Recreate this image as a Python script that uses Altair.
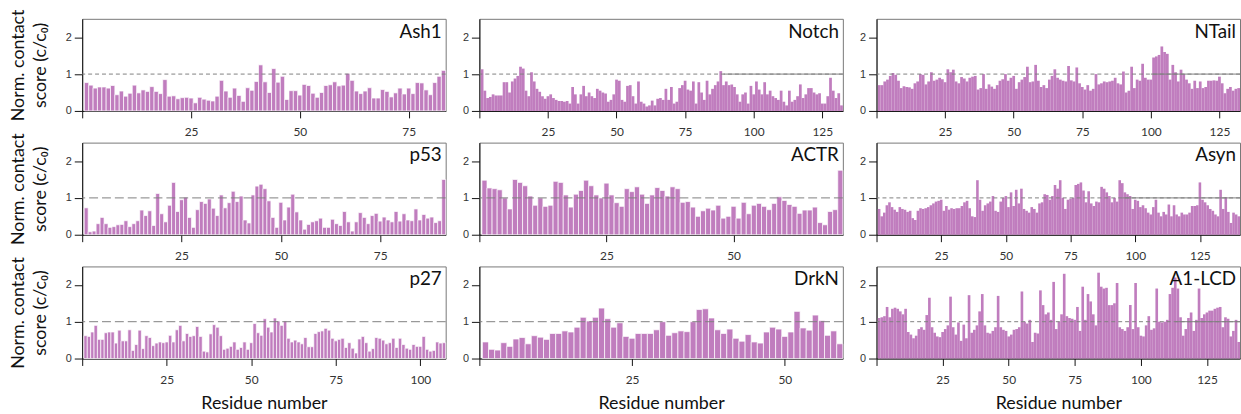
import altair as alt
import pandas as pd

# Normalised contact score per residue for each disordered region
ash1 = [0.77, 0.70, 0.62, 0.65, 0.65, 0.62, 0.69, 0.44, 0.54, 0.40, 0.48, 0.70, 0.49, 0.57, 0.53,
        0.66, 0.53, 0.47, 0.85, 0.40, 0.41, 0.33, 0.36, 0.37, 0.35, 0.22, 0.37, 0.32, 0.29, 0.27,
        0.40, 0.83, 0.54, 0.37, 0.62, 0.42, 0.26, 0.63, 0.56, 0.80, 1.25, 0.79, 0.50, 1.15, 0.78,
        0.94, 0.31, 0.55, 0.55, 0.43, 0.72, 0.69, 0.48, 0.37, 0.50, 0.69, 0.71, 0.79, 0.68, 0.70,
        1.02, 0.83, 0.54, 0.47, 0.54, 0.63, 0.35, 0.35, 0.58, 0.53, 0.38, 0.49, 0.62, 0.46, 0.62,
        0.47, 0.77, 0.76, 0.57, 0.44, 0.77, 0.94, 1.10]

notch = [1.13, 0.55, 0.35, 0.38, 0.45, 0.42, 0.42, 0.42, 0.78, 0.78, 0.50, 0.80, 0.88, 0.95, 1.20,
         1.15, 0.55, 0.40, 1.05, 0.80, 0.60, 0.52, 0.40, 0.33, 0.40, 0.45, 0.35, 0.30, 0.27, 0.27,
         0.25, 0.27, 0.20, 0.65, 0.45, 0.20, 0.45, 0.68, 0.40, 0.50, 0.40, 0.35, 0.60, 0.55, 0.50,
         0.47, 0.25, 0.30, 0.45, 0.85, 0.82, 0.30, 0.25, 0.68, 0.70, 0.40, 0.20, 0.80, 0.25, 0.20,
         0.12, 0.15, 0.28, 0.15, 0.33, 0.35, 0.30, 0.60, 0.30, 0.65, 0.20, 0.25, 0.62, 0.70, 0.82,
         0.58, 0.55, 0.80, 0.20, 0.78, 0.50, 0.30, 0.82, 0.45, 0.60, 0.70, 0.80, 1.08, 0.70, 0.80,
         0.70, 0.72, 0.65, 0.45, 0.25, 0.45, 0.50, 0.20, 0.68, 0.45, 0.80, 0.58, 0.45, 0.78, 0.45,
         0.55, 0.40, 0.35, 0.30, 0.55, 0.25, 0.15, 0.55, 0.25, 0.30, 0.40, 0.72, 0.35, 0.45, 0.62,
         0.62, 0.50, 0.45, 0.48, 0.20, 0.20, 0.40, 0.90, 0.55, 0.35, 0.48, 0.15]

ntail = [0.70, 0.70, 0.80, 0.85, 0.95, 1.03, 0.98, 0.82, 0.62, 0.67, 0.65, 0.64, 0.60, 0.75, 0.80,
         1.00, 0.98, 0.72, 0.80, 1.05, 0.82, 0.85, 0.90, 0.86, 0.78, 1.13, 1.05, 1.12, 0.80, 0.75,
         0.92, 0.88, 0.80, 0.90, 0.93, 0.95, 0.58, 0.62, 1.00, 0.60, 0.72, 0.66, 0.60, 0.70, 0.82,
         0.86, 1.00, 0.82, 0.90, 0.95, 0.60, 0.78, 0.85, 0.92, 1.20, 0.78, 0.80, 1.25, 0.82, 0.65,
         0.70, 0.62, 0.85, 0.95, 1.13, 0.90, 0.85, 0.82, 0.80, 1.22, 0.83, 0.80, 1.18, 0.75, 0.65,
         0.58, 0.70, 0.55, 0.60, 1.00, 0.72, 0.75, 0.80, 0.78, 0.80, 0.82, 0.90, 0.75, 0.72, 1.07,
         0.50, 0.55, 1.20, 0.62, 0.85, 0.82, 1.28, 0.90, 0.85, 0.85, 1.45, 1.48, 1.52, 1.75, 1.60,
         1.55, 0.85, 1.25, 1.05, 0.80, 1.12, 1.00, 0.85, 0.75, 0.60, 0.82, 0.62, 0.80, 0.62, 0.65,
         0.82, 0.82, 0.83, 0.82, 0.93, 0.75, 0.48, 0.60, 0.65, 0.55, 0.60, 0.62]

p53 = [0.73, 0.08, 0.10, 0.30, 0.47, 0.30, 0.20, 0.22, 0.27, 0.28, 0.38, 0.22, 0.30, 0.38, 0.67,
       0.52, 0.65, 0.25, 1.12, 0.57, 0.35, 0.80, 1.42, 0.63, 0.95, 1.02, 0.47, 0.20, 0.68, 0.90,
       0.85, 0.97, 0.72, 0.52, 1.08, 0.73, 0.87, 1.18, 0.90, 1.05, 0.40, 0.32, 1.08, 1.32, 1.37,
       1.25, 0.92, 0.47, 0.20, 0.88, 0.40, 0.75, 1.10, 0.62, 0.40, 0.15, 0.28, 0.35, 0.38, 0.45,
       0.20, 0.20, 0.42, 0.30, 0.25, 0.63, 0.35, 0.10, 0.35, 0.60, 0.47, 0.30, 0.52, 0.58, 0.37,
       0.48, 0.40, 0.35, 0.63, 0.37, 0.57, 0.40, 0.38, 0.70, 0.40, 0.55, 0.45, 0.48, 0.33, 0.38,
       1.50]

actr = [1.48, 1.27, 1.25, 1.22, 1.00, 0.70, 1.50, 1.42, 1.33, 1.05, 0.80, 1.00, 0.77, 0.80, 1.45,
        1.42, 1.08, 0.75, 1.10, 1.20, 1.48, 1.33, 1.08, 1.00, 1.40, 1.08, 0.87, 0.77, 1.25, 1.17,
        1.30, 1.10, 0.85, 1.08, 1.28, 1.20, 1.05, 1.30, 1.25, 0.88, 0.90, 0.75, 0.50, 0.65, 0.72,
        0.67, 0.80, 0.45, 0.50, 0.77, 0.45, 0.88, 0.57, 0.80, 0.85, 0.77, 0.68, 0.85, 1.03, 0.93,
        0.82, 0.77, 0.58, 0.67, 0.67, 0.75, 0.33, 0.27, 0.63, 0.68, 1.75]

asyn = [0.70, 0.50, 0.60, 0.80, 0.88, 0.75, 0.68, 0.62, 0.75, 0.70, 0.68, 0.62, 0.65, 0.45, 0.40,
        0.65, 0.72, 0.70, 0.72, 0.75, 0.80, 0.85, 0.90, 0.92, 0.95, 0.65, 0.78, 0.68, 0.72, 0.70,
        0.72, 0.72, 0.78, 0.88, 0.92, 0.72, 0.50, 0.48, 1.48, 0.95, 0.65, 0.80, 0.85, 0.90, 1.05,
        0.65, 0.62, 0.90, 1.00, 1.05, 0.75, 1.15, 0.78, 1.22, 0.85, 1.25, 0.70, 0.65, 0.60, 0.75,
        0.70, 0.60, 0.85, 0.88, 1.10, 1.08, 0.95, 1.05, 1.35, 1.25, 1.48, 1.00, 0.70, 0.95, 0.98,
        1.00, 1.35, 1.38, 1.42, 1.20, 0.88, 1.18, 0.85, 0.78, 0.90, 0.88, 1.30, 1.25, 1.15, 1.05,
        0.88, 1.00, 0.90, 1.48, 1.40, 1.15, 1.10, 1.05, 0.70, 0.95, 0.92, 0.75, 0.80, 0.72, 0.60,
        0.55, 0.75, 0.95, 0.60, 0.50, 0.62, 0.55, 0.82, 0.50, 0.80, 0.55, 0.50, 0.60, 0.55, 0.55,
        0.60, 0.78, 0.78, 0.80, 1.42, 0.95, 0.88, 0.80, 0.70, 0.65, 0.55, 0.50, 1.22, 0.70, 1.02,
        0.62, 0.32, 0.60, 0.55, 0.50]

p27 = [0.62, 0.60, 0.72, 0.90, 0.52, 0.52, 0.70, 0.72, 0.72, 0.42, 0.77, 0.48, 0.48, 0.78, 0.22,
       0.38, 0.77, 0.27, 0.62, 0.57, 0.35, 0.42, 0.45, 0.43, 0.45, 0.63, 0.45, 0.78, 0.90, 0.48,
       0.68, 0.60, 0.62, 0.87, 0.60, 0.20, 0.18, 0.67, 0.92, 0.85, 0.62, 0.25, 0.28, 0.33, 0.45,
       0.25, 0.30, 0.45, 0.25, 0.43, 0.95, 0.70, 0.63, 1.08, 0.85, 0.72, 1.10, 1.02, 0.90, 1.02,
       0.55, 0.45, 0.50, 0.45, 0.40, 0.57, 0.32, 0.32, 0.68, 0.73, 0.75, 0.82, 0.77, 0.55, 0.48,
       0.52, 0.55, 0.30, 0.43, 0.28, 0.15, 0.53, 0.60, 0.43, 0.20, 0.27, 0.57, 0.55, 0.50, 0.40,
       0.43, 0.55, 0.30, 0.55, 0.38, 0.28, 0.25, 0.38, 0.33, 0.33, 0.60, 0.25, 0.20, 0.22, 0.45,
       0.42, 0.43]

drkn = [0.45, 0.25, 0.23, 0.43, 0.33, 0.53, 0.57, 0.40, 0.62, 0.58, 0.52, 0.68, 0.68, 0.75, 0.72,
        0.85, 1.12, 1.02, 1.12, 1.37, 1.08, 0.85, 0.97, 0.60, 0.55, 0.68, 0.68, 0.68, 0.78, 1.00,
        0.63, 0.70, 0.75, 0.73, 1.00, 1.33, 1.35, 1.10, 0.78, 0.68, 0.80, 0.55, 0.47, 0.65, 0.45,
        0.42, 0.72, 0.85, 0.80, 0.60, 0.72, 1.28, 0.83, 0.77, 1.18, 1.03, 0.63, 0.75, 0.40]

a1lcd = [1.10, 1.12, 1.15, 1.40, 1.12, 1.35, 1.38, 1.35, 1.28, 1.20, 1.35, 0.72, 0.65, 0.55, 0.62,
         0.80, 0.85, 0.78, 1.18, 1.65, 0.85, 0.70, 0.60, 0.58, 0.72, 0.80, 0.90, 1.68, 0.85, 0.65,
         0.98, 0.48, 0.92, 0.55, 1.72, 0.70, 0.78, 0.90, 1.28, 1.75, 0.90, 0.70, 0.68, 0.75, 0.85,
         1.70, 0.85, 0.78, 0.75, 0.60, 0.65, 0.78, 0.80, 0.85, 1.82, 1.00, 0.95, 1.05, 0.45, 0.70,
         0.68, 1.85, 1.45, 1.20, 1.25, 1.05, 2.08, 0.80, 1.00, 1.20, 2.30, 1.15, 1.10, 1.08, 1.05,
         1.40, 0.75, 1.95, 1.05, 1.75, 1.55, 1.20, 0.90, 2.33, 1.95, 1.90, 1.92, 1.45, 1.45, 1.50,
         2.05, 0.85, 0.80, 0.75, 0.85, 1.45, 0.80, 2.05, 0.85, 0.62, 0.60, 0.90, 1.15, 0.78, 0.82,
         1.90, 1.00, 0.98, 1.00, 1.05, 1.75, 1.92, 2.20, 1.90, 1.12, 0.62, 0.80, 1.10, 1.25, 0.75,
         1.05, 1.90, 1.10, 1.20, 1.25, 1.30, 1.30, 1.35, 1.38, 1.40, 0.85, 1.12, 1.08, 0.60, 0.75,
         1.05, 0.45]

# (name, values, labelled x ticks, dash pattern of the y = 1 line,
#  residue from which that line is drawn solid), row by row
panels = [
    ("Ash1", ash1, [25, 50, 75], [4, 3], None),
    ("Notch", notch, [25, 50, 75, 100, 125], [4, 3], 89),
    ("NTail", ntail, [25, 50, 75, 100, 125], [4, 3], 100),
    ("p53", p53, [25, 50, 75], [9, 4], None),
    ("ACTR", actr, [25, 50], [9, 4], None),
    ("Asyn", asyn, [25, 50, 75, 100, 125], [4, 3], 95),
    ("p27", p27, [25, 50, 75, 100], [9, 4], None),
    ("DrkN", drkn, [25, 50], [9, 4], None),
    ("A1-LCD", a1lcd, [25, 50, 75, 100, 125], [4, 3], 113),
]

W, H = 367, 93
BAR = "#c07dbe"
LINE = "#808080"
FONT = "Lato"


def panel(name, vals, ticks, dash, solid_from, first_col, last_row):
    n = len(vals)
    df = pd.DataFrame({"residue": list(range(1, n + 1)), "score": vals})
    one = alt.Chart(pd.DataFrame({"name": [name]}))
    x_scale = alt.Scale(domain=[0, n + 0.5], nice=False, zero=False)
    x_axis = alt.Axis(
        values=[0] + ticks,
        labelExpr="datum.value == 0 ? '' : datum.label",
        title="Residue number" if last_row else None,
        titleFont=FONT, titleFontSize=18, titleFontWeight="normal", titleColor="#111",
        titlePadding=9,
        labelFont=FONT, labelFontSize=12, labelColor="#333", labelPadding=9,
        tickSize=7, tickColor="#111", domainColor="#111", grid=False,
    )
    y_axis = alt.Axis(
        values=[0, 1, 2],
        title=["Norm. contact", "score (c/c\u2080)"] if first_col else None,
        titleFont=FONT, titleFontSize=18, titleFontWeight="normal", titleColor="#111",
        titleLineHeight=22, titlePadding=16,
        labelFont="Liberation Sans", labelFontSize=11, labelColor="#333", labelPadding=3,
        tickSize=8, tickColor="#111", domainColor="#111", grid=False,
    )
    mark = {"color": BAR}
    if n <= 110:
        mark.update(stroke="white", strokeWidth=0.7)
    bars = alt.Chart(df).transform_calculate(
        lo="datum.residue - 0.5", hi="datum.residue + 0.5"
    ).mark_bar(**mark).encode(
        x=alt.X("lo:Q", scale=x_scale, axis=x_axis),
        x2="hi:Q",
        y=alt.Y("score:Q", scale=alt.Scale(domain=[0, 2.5], nice=False), axis=y_axis),
        y2=alt.datum(0),
    )
    layers = [bars, one.mark_rule(color=LINE, strokeWidth=1, strokeDash=dash).encode(y=alt.datum(1))]
    if solid_from is not None:
        layers.append(one.mark_rule(color=LINE, strokeWidth=1).encode(
            x=alt.datum(solid_from), x2=alt.datum(n + 0.5), y=alt.datum(1)))
    layers.append(one.mark_text(
        align="right", baseline="top", font=FONT, fontSize=19, color="#111"
    ).encode(x=alt.value(W - 4), y=alt.value(4), text="name:N"))
    return alt.layer(*layers).properties(width=W, height=H)


charts = [
    panel(name, vals, ticks, dash, solid, i % 3 == 0, i >= 6)
    for i, (name, vals, ticks, dash, solid) in enumerate(panels)
]

chart = alt.concat(*charts, columns=3, spacing={"row": 32, "column": 34}).properties(
    bounds="flush",
    padding={"left": 9, "top": 6, "right": 0, "bottom": 0},
).configure_view(stroke="#777", strokeWidth=1)

chart.save("out.html", embed_options={"renderer": "svg", "actions": False})
